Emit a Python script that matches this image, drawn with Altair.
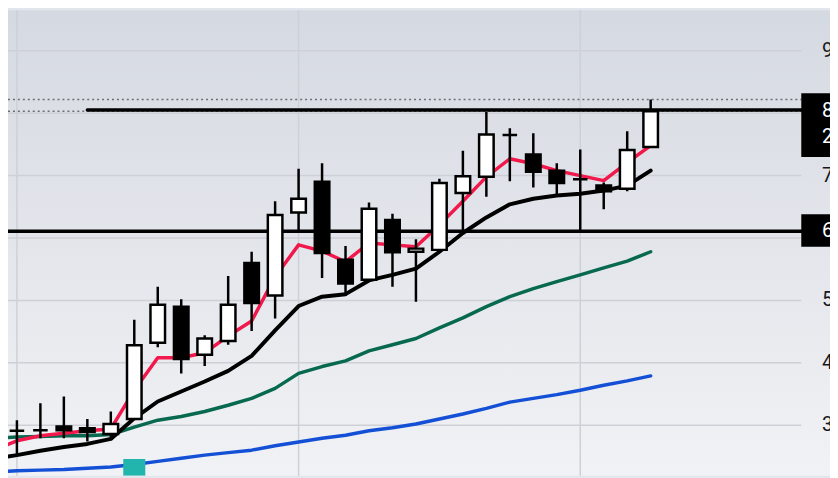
import altair as alt
import pandas as pd

# ---------------- data ----------------
candle_idx = list(range(-1, 28))
opens  = [2.48, 2.91, 2.92, 2.98, 2.95, 2.86, 3.10, 4.32, 4.90, 4.13, 4.35, 5.60, 5.08, 6.41, 6.90,
          5.65, 5.33, 6.29, 5.78, 5.81, 6.72, 6.98, 7.65, 7.34, 7.08, 6.94, 6.84, 6.79, 7.46]
highs  = [2.92, 3.08, 3.35, 3.46, 3.10, 3.22, 4.69, 5.22, 5.02, 4.44, 5.39, 5.78, 6.59, 7.11, 7.20,
          5.87, 6.57, 6.39, 5.98, 6.95, 7.40, 8.02, 7.76, 7.68, 7.20, 7.42, 6.89, 7.71, 8.22]
lows   = [2.48, 2.53, 2.79, 2.79, 2.74, 2.77, 3.10, 4.25, 3.83, 3.95, 4.29, 4.51, 4.71, 6.13, 5.36,
          5.07, 5.31, 5.22, 4.98, 5.79, 6.13, 6.66, 6.91, 6.81, 6.70, 6.08, 6.46, 6.75, 7.46]
closes = [2.92, 2.91, 2.92, 2.92, 2.89, 3.02, 4.28, 4.93, 4.06, 4.39, 4.93, 4.96, 6.37, 6.63, 5.76,
          5.27, 6.47, 5.77, 5.83, 6.88, 6.99, 7.66, 7.65, 7.06, 6.88, 6.94, 6.75, 7.41, 8.03]

ma_red   = [2.60, 2.75, 2.83, 2.87, 2.91, 2.94, 3.56, 4.08, 4.08, 4.16, 4.43, 4.67, 5.38, 5.89, 5.79,
            5.62, 5.92, 5.89, 5.86, 6.21, 6.59, 6.98, 7.27, 7.19, 7.08, 7.00, 6.92, 7.21, 7.48]
ma_black = [2.46, 2.52, 2.59, 2.65, 2.70, 2.78, 3.11, 3.38, 3.54, 3.70, 3.87, 4.11, 4.52, 4.91, 5.06,
            5.10, 5.32, 5.41, 5.51, 5.78, 6.08, 6.33, 6.54, 6.63, 6.68, 6.71, 6.76, 6.84, 7.08]
ma_green = [2.79, 2.81, 2.82, 2.83, 2.83, 2.85, 2.97, 3.08, 3.14, 3.22, 3.32, 3.43, 3.59, 3.83, 3.94,
            4.03, 4.19, 4.29, 4.39, 4.56, 4.72, 4.90, 5.06, 5.19, 5.30, 5.41, 5.52, 5.63, 5.78]
ma_blue  = [2.25, 2.27, 2.28, 2.29, 2.31, 2.33, 2.37, 2.42, 2.47, 2.52, 2.56, 2.60, 2.67, 2.73, 2.79,
            2.84, 2.91, 2.96, 3.02, 3.10, 3.18, 3.27, 3.37, 3.43, 3.49, 3.56, 3.64, 3.71, 3.79]

price_ticks = [3, 4, 5, 6, 7, 8, 9]
# scale labels that are not hidden behind the black price boxes
label_ticks = [3, 4, 5, 7, 9]
label_texts = ["3", "4", "5", "7", "9"]
grid_idx = [0, 12, 24]

resistance_level = 8.05
resistance_start = 3
support_level = 6.11
dotted_levels = [8.22, 8.03]

price_box_top, price_box_bottom = 8.32, 7.30
price_box_texts = ["8", "2"]
price_box_text_levels = [8.03, 7.62]
support_box_top, support_box_bottom = 6.38, 5.86
support_box_text = ["6"]
support_box_text_level = [6.11]

marker_idx = [5]
marker_top = [2.46]

# ---------------- layout ----------------
W, H = 830, 470
PLOT_RIGHT = 801          # end of plot area (price scale begins)
LABEL_X = 822
xs = alt.Scale(domain=[-0.38, 34.64], nice=False, zero=False)
ys = alt.Scale(domain=[2.19, 9.65], nice=False, zero=False)

cd = pd.DataFrame({"i": candle_idx, "o": opens, "h": highs, "l": lows, "c": closes})
cd["lo"] = cd[["o", "c"]].min(axis=1)
cd["hi"] = cd[["o", "c"]].max(axis=1)
cd["fill"] = ["#ffffff" if c >= o else "#000000" for o, c in zip(opens, closes)]
cd["x1"] = cd["i"] - 0.31
cd["x2"] = cd["i"] + 0.31

ma = pd.DataFrame({"i": candle_idx, "red": ma_red, "black": ma_black,
                   "green": ma_green, "blue": ma_blue})

one = pd.DataFrame({"a": [0]})

bg = alt.Chart(one).mark_rect(
    color=alt.Gradient(gradient="linear",
                       stops=[alt.GradientStop(color="#d5d9e1", offset=0),
                              alt.GradientStop(color="#f1f2f5", offset=1)],
                       x1=0, x2=0, y1=0, y2=1)
).encode(x=alt.value(0), x2=alt.value(W), y=alt.value(0), y2=alt.value(H))

hgrid = alt.Chart(pd.DataFrame({"p": price_ticks})).mark_rule(
    color="#cdd0d7", strokeWidth=1.5
).encode(y=alt.Y("p:Q", scale=ys, axis=None), x=alt.value(0), x2=alt.value(PLOT_RIGHT))

vgrid = alt.Chart(pd.DataFrame({"g": grid_idx})).mark_rule(
    color="#cdd0d7", strokeWidth=1.5
).encode(x=alt.X("g:Q", scale=xs, axis=None))

dotted = alt.Chart(pd.DataFrame({"p": dotted_levels})).mark_rule(
    color="#6b6e76", strokeWidth=1.5, strokeDash=[2, 3]
).encode(y=alt.Y("p:Q", scale=ys, axis=None), x=alt.value(0), x2=alt.value(PLOT_RIGHT))

support = alt.Chart(pd.DataFrame({"p": [support_level]})).mark_rule(
    color="#000000", strokeWidth=3.5
).encode(y=alt.Y("p:Q", scale=ys, axis=None), x=alt.value(0), x2=alt.value(W))

resist = alt.Chart(pd.DataFrame({"p": [resistance_level], "s": [resistance_start]})).mark_rule(
    color="#000000", strokeWidth=3.5, strokeCap="round"
).encode(y=alt.Y("p:Q", scale=ys, axis=None), x=alt.X("s:Q", scale=xs, axis=None),
         x2=alt.value(W))

def ma_line(col, color, width):
    return alt.Chart(ma).mark_line(color=color, strokeWidth=width, clip=True,
                                   strokeJoin="round", strokeCap="round").encode(
        x=alt.X("i:Q", scale=xs, axis=None),
        y=alt.Y(f"{col}:Q", scale=ys, axis=None),
        order="i:Q")

blue_l = ma_line("blue", "#1450d6", 3.5)
green_l = ma_line("green", "#07694f", 3.5)
black_l = ma_line("black", "#000000", 4)
red_l = ma_line("red", "#f2184c", 3.5)

marker = alt.Chart(pd.DataFrame({"m": marker_idx, "t": marker_top})).transform_calculate(
    m1="datum.m - 0.47", m2="datum.m + 0.47"
).mark_rect(color="#22b5ad", clip=True).encode(
    x=alt.X("m1:Q", scale=xs, axis=None), x2="m2:Q",
    y=alt.Y("t:Q", scale=ys, axis=None), y2=alt.value(H))

wicks = alt.Chart(cd).mark_rule(color="#000000", strokeWidth=2.5, clip=True).encode(
    x=alt.X("i:Q", scale=xs, axis=None),
    y=alt.Y("l:Q", scale=ys, axis=None), y2="h:Q")

bodies = alt.Chart(cd).mark_rect(stroke="#000000", strokeWidth=2.5, clip=True).encode(
    x=alt.X("x1:Q", scale=xs, axis=None), x2="x2:Q",
    y=alt.Y("lo:Q", scale=ys, axis=None), y2="hi:Q",
    fill=alt.Fill("fill:N", scale=None))

labels = alt.Chart(pd.DataFrame({"p": label_ticks, "t": label_texts})).mark_text(
    align="left", baseline="middle", fontSize=20, font="Roboto", color="#131722", clip=True
).encode(y=alt.Y("p:Q", scale=ys, axis=None), x=alt.value(LABEL_X), text="t:N")

boxes = alt.Chart(pd.DataFrame({"top": [price_box_top, support_box_top],
                                "bot": [price_box_bottom, support_box_bottom]})).mark_rect(
    color="#000000"
).encode(y=alt.Y("top:Q", scale=ys, axis=None), y2="bot:Q",
         x=alt.value(PLOT_RIGHT), x2=alt.value(W))

box_text = alt.Chart(pd.DataFrame({"p": price_box_text_levels + support_box_text_level,
                                   "t": price_box_texts + support_box_text})).mark_text(
    align="left", baseline="middle", fontSize=20, font="Roboto", color="#ffffff", clip=True
).encode(y=alt.Y("p:Q", scale=ys, axis=None), x=alt.value(LABEL_X), text="t:N")

chart = alt.layer(
    bg, hgrid, vgrid, dotted, blue_l, green_l, black_l, red_l, marker,
    support, resist, wicks, bodies, labels, boxes, box_text
).properties(
    width=W, height=H, padding=0, autosize="none", background="#e3e6ec"
).configure_view(stroke=None)

chart.save("out.html", embed_options={"renderer": "svg", "actions": False})
